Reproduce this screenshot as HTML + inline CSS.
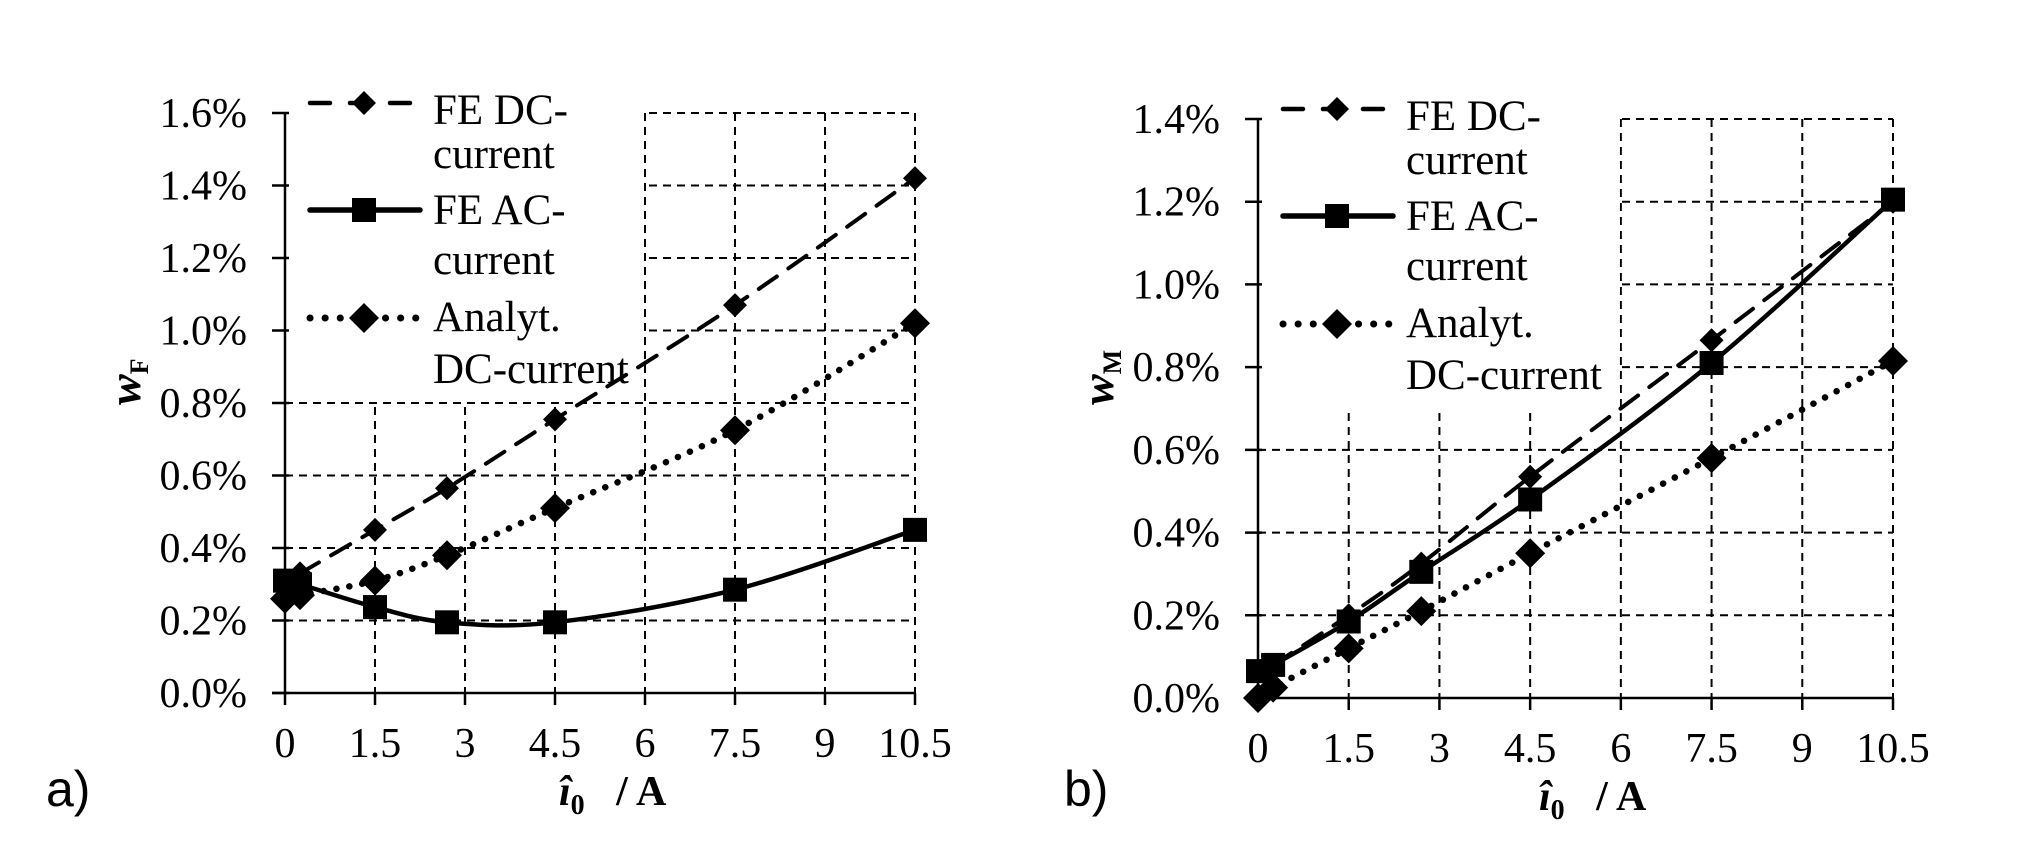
<!DOCTYPE html>
<html><head><meta charset="utf-8"><style>
html,body{margin:0;padding:0;background:#fff;}
svg{display:block;}
text{font-family:"Liberation Serif",serif;fill:#000;}
</style></head><body>
<svg id="root" width="2025" height="842" viewBox="0 0 2025 842">
<rect width="2025" height="842" fill="#fff"/>
</svg>
<script>
const xTicks=[0,1.5,3,4.5,6,7.5,9,10.5];
const xTickLabels=["0","1.5","3","4.5","6","7.5","9","10.5"];
const xVals=[0,0.25,1.5,2.7,4.5,7.5,10.5];
const leftYTicks=[0,0.2,0.4,0.6,0.8,1.0,1.2,1.4,1.6];
const leftDC=[null,0.33,0.45,0.565,0.755,1.07,1.42];
const leftAC=[0.31,0.30,0.237,0.195,0.195,0.285,0.45];
const leftAn=[0.26,0.27,0.31,0.38,0.51,0.725,1.02];
const rightYTicks=[0,0.2,0.4,0.6,0.8,1.0,1.2,1.4];
const rightDC=[null,0.08,0.2,0.325,0.535,0.865,1.2];
const rightAC=[0.065,0.08,0.185,0.305,0.48,0.81,1.205];
const rightAn=[0.0,0.025,0.12,0.21,0.35,0.58,0.815];

const NS="http://www.w3.org/2000/svg";
const root=document.getElementById('root');
function el(tag,attrs,parent){const e=document.createElementNS(NS,tag);for(const k in attrs)e.setAttribute(k,attrs[k]);(parent||root).appendChild(e);return e;}
function smooth(pts){let d=`M${pts[0][0]},${pts[0][1]}`;for(let i=0;i<pts.length-1;i++){const p0=pts[i-1]||pts[i],p1=pts[i],p2=pts[i+1],p3=pts[i+2]||p2;const t=6;d+=` C${p1[0]+(p2[0]-p0[0])/t},${p1[1]+(p2[1]-p0[1])/t} ${p2[0]-(p3[0]-p1[0])/t},${p2[1]-(p3[1]-p1[1])/t} ${p2[0]},${p2[1]}`;}return d;}
function diamond(g,x,y,r){const p=el('path',{d:`M${x},${y-r}L${x+r},${y}L${x},${y+r}L${x-r},${y}Z`,fill:'#000'},g);}
function square(g,x,y,r){const p=el('rect',{x:x-r,y:y-r,width:2*r,height:2*r,fill:'#000'},g);}

function chart(cfg){
  const g=el('g',{});
  
  
  const X=v=>cfg.x0+(v/10.5)*(cfg.x1-cfg.x0);
  const ymax=cfg.yTicks[cfg.yTicks.length-1];
  const Y=v=>cfg.y0-(v/ymax)*(cfg.y0-cfg.y1);
  cfg.yTicks.forEach(t=>{if(t>0){const l=el('line',{x1:cfg.x0,x2:cfg.x1,y1:Y(t),y2:Y(t),stroke:'#000','stroke-width':2,'stroke-dasharray':'8,6'},g);}});
  xTicks.forEach(t=>{if(t>0){const l=el('line',{x1:X(t),x2:X(t),y1:cfg.y1,y2:cfg.y0,stroke:'#000','stroke-width':2,'stroke-dasharray':'8,6'},g);}});
  const lb=el('rect',{x:cfg.x0+1,y:0,width:X(6)-cfg.x0-2,height:cfg.legBottom,fill:'#fff'},g);
  
  const ya=el('line',{x1:cfg.x0,x2:cfg.x0,y1:cfg.y1,y2:cfg.y0,stroke:'#000','stroke-width':2.5},g);
  
  const xa=el('line',{x1:cfg.x0-13,x2:cfg.x1,y1:cfg.y0,y2:cfg.y0,stroke:'#000','stroke-width':2.5},g);
  
  cfg.yTicks.forEach(t=>{el('line',{x1:cfg.x0-13,x2:cfg.x0+4,y1:Y(t),y2:Y(t),stroke:'#000','stroke-width':2.5},g);
    const tx=el('text',{x:cfg.x0-38,y:Y(t)+14,'text-anchor':'end','font-size':42},g);tx.textContent=t.toFixed(1)+'%';
    });
  xTicks.forEach((t,i)=>{el('line',{x1:X(t),x2:X(t),y1:cfg.y0,y2:cfg.y0+12,stroke:'#000','stroke-width':2.5},g);
    const tx=el('text',{x:X(t),y:cfg.y0+64,'text-anchor':'middle','font-size':42},g);tx.textContent=xTickLabels[i];
    });
  const series=[[cfg.dc,'dc','22,14',4,'d'],[cfg.an,'an','0.1,13',6.5,'d'],[cfg.ac,'ac',null,4.5,'s']];
  series.forEach(([vals,nm,dash,w,mk])=>{
    const pts=[];vals.forEach((v,i)=>{if(v!==null)pts.push([X(xVals[i]),Y(v)]);});
    const a={d:smooth(pts),fill:'none',stroke:'#000','stroke-width':w};
    if(dash){a['stroke-dasharray']=dash;} a['stroke-linecap']='round';
    const p=el('path',a,g);
    pts.forEach(q=>mk==='d'?diamond(g,q[0],q[1],nm==='dc'?12:15):square(g,q[0],q[1],12));
  });
  const lx=cfg.x0+22, ly0=cfg.y1-10;
  const items=[['dc','20,20',4.5,'d',['FE DC-','current'],0,[21,65]],['ac',null,5.5,'s',['FE AC-','current'],107,[121,171]],['an','0.1,15',7,'d',['Analyt.','DC-current'],215,[228,280]]];
  items.forEach(([nm,dash,w,mk,lines,off,rows])=>{
    const ly=ly0+off;
    const a={x1:lx+3,x2:lx+113,y1:ly,y2:ly,stroke:'#000','stroke-width':w,'stroke-linecap':'round'};if(dash)a['stroke-dasharray']=dash;
    const l=el('line',a,g);
    mk==='d'?diamond(g,lx+57,ly,nm==='dc'?12:15):square(g,lx+57,ly,12);
    lines.forEach((s,k)=>{const t=el('text',{x:cfg.x0+148,y:ly0+rows[k],'font-size':43},g);t.textContent=s;});
  });
  const xt=el('text',{x:cfg.x0+cfg.xtOff,y:cfg.y0+112,'font-size':42,'font-weight':'bold'},g);
  xt.innerHTML='<tspan font-style="italic">î</tspan><tspan font-size="28" dy="9">0</tspan><tspan dy="-9" xml:space="preserve">   / A</tspan>';
  
  const yt=el('text',{transform:`translate(${cfg.x0-145},${cfg.ytY}) rotate(-90)`,'font-size':46,'font-weight':'bold'},g);
  yt.innerHTML='<tspan font-style="italic">w</tspan><tspan font-size="26" dy="8">'+cfg.sub+'</tspan>';
  
  const pl=el('text',{x:cfg.panelX,y:806,'font-size':50,style:'font-family:"Liberation Sans",sans-serif'},g);
  pl.textContent=cfg.panel;
}
chart({name:'chart-a',x0:285,x1:915,y0:693,y1:113,yTicks:leftYTicks,dc:leftDC,ac:leftAC,an:leftAn,legBottom:402,ytY:405,xtOff:274,panelX:46,sub:'F',panel:'a)'});
chart({name:'chart-b',x0:1258,x1:1893,y0:698,y1:119,yTicks:rightYTicks,dc:rightDC,ac:rightAC,an:rightAn,legBottom:410,ytY:405,xtOff:281,panelX:1064,sub:'M',panel:'b)'});
</script>
</body></html>
